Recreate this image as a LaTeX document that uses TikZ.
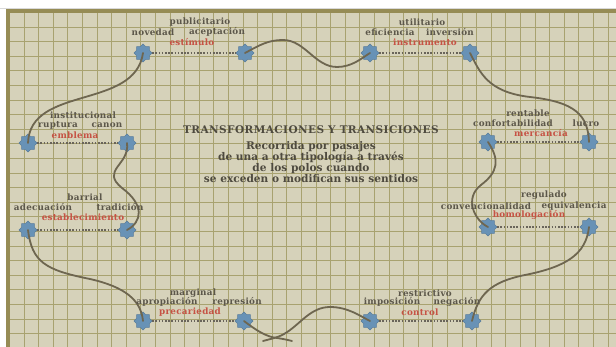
\documentclass[tikz,border=0pt]{standalone}
\usepackage{fontspec}
\setmainfont{DejaVu Serif}
\newfontfamily\lblfont[LetterSpace=3]{DejaVu Serif}
\newfontfamily\ttlfont[LetterSpace=4]{DejaVu Serif}
\usetikzlibrary{shapes.geometric}
\definecolor{bg}{RGB}{214,210,186}
\definecolor{gridc}{RGB}{168,162,112}
\definecolor{framec}{RGB}{150,140,85}
\definecolor{curvec}{RGB}{110,102,80}
\definecolor{starc}{RGB}{104,146,182}
\definecolor{txt}{RGB}{92,87,74}
\definecolor{redt}{RGB}{198,82,68}
\definecolor{dotc}{RGB}{105,100,90}
\begin{document}
\begin{tikzpicture}[x=1pt,y=-1pt,
  pole/.style={star,star points=8,star point ratio=1.3,minimum size=18pt,inner sep=0pt,fill=starc,draw=starc!85!black,line width=0.4pt},
  lbl/.style={font=\lblfont\bfseries\fontsize{8.8}{9}\selectfont,text=txt,inner sep=0pt},
  key/.style={lbl,text=redt},
  curve/.style={draw=curvec,line width=1.8pt,line cap=round},
  link/.style={draw=dotc,line width=1.6pt,dash pattern=on 1.6pt off 1.6pt},
  gridline/.style={draw=gridc,line width=0.7pt}]
\useasboundingbox (0,0) rectangle (616,347);
\fill[white] (0,0) rectangle (616,347);
\fill[bg] (10,13) rectangle (616,347);
\foreach \i in {0,...,40} \draw[gridline] ({24+14.6*\i},13) -- ({24+14.6*\i},347);
\foreach \j in {0,...,22} \draw[gridline] (10,{27+14.6*\j}) -- (616,{27+14.6*\j});
\fill[framec] (6,9) rectangle (10,347);
\fill[framec] (6,9) rectangle (616,13);
\draw[black!15,line width=0.6pt] (0,8) -- (616,8);

% poles
\node[pole] (TL1) at (143,53) {};
\node[pole] (TL2) at (245,53) {};
\node[pole] (TR1) at (370,53) {};
\node[pole] (TR2) at (470,53) {};
\node[pole] (LU1) at (28,143) {};
\node[pole] (LU2) at (127,143) {};
\node[pole] (LL1) at (28,230) {};
\node[pole] (LL2) at (127,230) {};
\node[pole] (RU1) at (488,142) {};
\node[pole] (RU2) at (589,142) {};
\node[pole] (RL1) at (488,227) {};
\node[pole] (RL2) at (589,227) {};
\node[pole] (BL1) at (143,321) {};
\node[pole] (BL2) at (244,321) {};
\node[pole] (BR1) at (370,321) {};
\node[pole] (BR2) at (472,321) {};

% dotted links
\draw[link] (TL1) -- (TL2);
\draw[link] (TR1) -- (TR2);
\draw[link] (LU1) -- (LU2);
\draw[link] (LL1) -- (LL2);
\draw[link] (RU1) -- (RU2);
\draw[link] (RL1) -- (RL2);
\draw[link] (BL1) -- (BL2);
\draw[link] (BR1) -- (BR2);

% curves
\draw[curve] (TL1.center) .. controls (135,110) and (30,85) .. (LU1.center);
\draw[curve] (LU2.center) .. controls (130,165) and (100,170) .. (122,188) .. controls (145,205) and (142,222) .. (LL2.center);
\draw[curve] (LL1.center) .. controls (32,262) and (45,270) .. (90,279) .. controls (125,287) and (141,300) .. (BL1.center);
\draw[curve] (BL2.center) .. controls (257,331) and (267,337) .. (277,338) .. controls (284,339) and (288,340) .. (292,341);
\draw[curve] (263,341) .. controls (270,339) and (277,338) .. (284,334) .. controls (300,325) and (310,307) .. (330,307) .. controls (348,307) and (360,316) .. (BR1.center);
\draw[curve] (BR2.center) .. controls (478,295) and (490,282) .. (525,275) .. controls (565,267) and (586,255) .. (RL2.center);
\draw[curve] (RU1.center) .. controls (500,160) and (498,172) .. (481,185) .. controls (464,198) and (474,220) .. (RL1.center);
\draw[curve] (TR2.center) .. controls (480,72) and (487,92) .. (530,97) .. controls (575,102) and (588,115) .. (RU2.center);
\draw[curve] (TL2.center) .. controls (260,45) and (268,40) .. (283,40) .. controls (305,40) and (315,67) .. (337,67) .. controls (352,67) and (362,58) .. (TR1.center);

% labels
\node[lbl] (a1) at (200,22) {publicitario};
\node[lbl] (a2) at (153,32) {novedad};
\node[lbl] (a3) at (217,32) {aceptación};
\node[key] (a4) at (192,42) {estímulo};
\node[lbl] (b1) at (422,22) {utilitario};
\node[lbl] (b2) at (390,32) {eficiencia};
\node[lbl] (b3) at (450,32) {inversión};
\node[key] (b4) at (425,42) {instrumento};
\node[lbl] (c1) at (83,115) {institucional};
\node[lbl] (c2) at (58,125) {ruptura};
\node[lbl] (c3) at (107,125) {canon};
\node[key] (c4) at (75,135) {emblema};
\node[lbl] (d1) at (85,197) {barrial};
\node[lbl] (d2) at (43,207) {adecuación};
\node[lbl] (d3) at (120,207) {tradición};
\node[key] (d4) at (83,217) {establecimiento};
\node[lbl] (e1) at (528,113) {rentable};
\node[lbl] (e2) at (513,123) {confortabilidad};
\node[lbl] (e3) at (586,123) {lucro};
\node[key] (e4) at (541,133) {mercancía};
\node[lbl] (f1) at (544,195) {regulado};
\node[lbl] (f2) at (486,206) {convencionalidad};
\node[lbl] (f3) at (574,206) {equivalencia};
\node[key] (f4) at (529,215) {homologación};
\node[lbl] (g1) at (193,293) {marginal};
\node[lbl] (g2) at (167,302) {apropiación};
\node[lbl] (g3) at (237,302) {represión};
\node[key] (g4) at (190,312) {precariedad};
\node[lbl] (h1) at (425,293) {restrictivo};
\node[lbl] (h2) at (392,302) {imposición};
\node[lbl] (h3) at (457,302) {negación};
\node[key] (h4) at (420,312) {control};

\node[text=txt!85!black,font=\ttlfont\bfseries\fontsize{10.5}{11}\selectfont,inner sep=0pt] (title) at (311,130) {TRANSFORMACIONES Y TRANSICIONES};
\node[text=txt!85!black,font=\bfseries\fontsize{10.6}{11}\selectfont,align=center,inner sep=0pt] (sub) at (311,162) {Recorrida por pasajes\\de una a otra tipología a través\\de los polos cuando\\se exceden o modifican sus sentidos};
\end{tikzpicture}
\end{document}
